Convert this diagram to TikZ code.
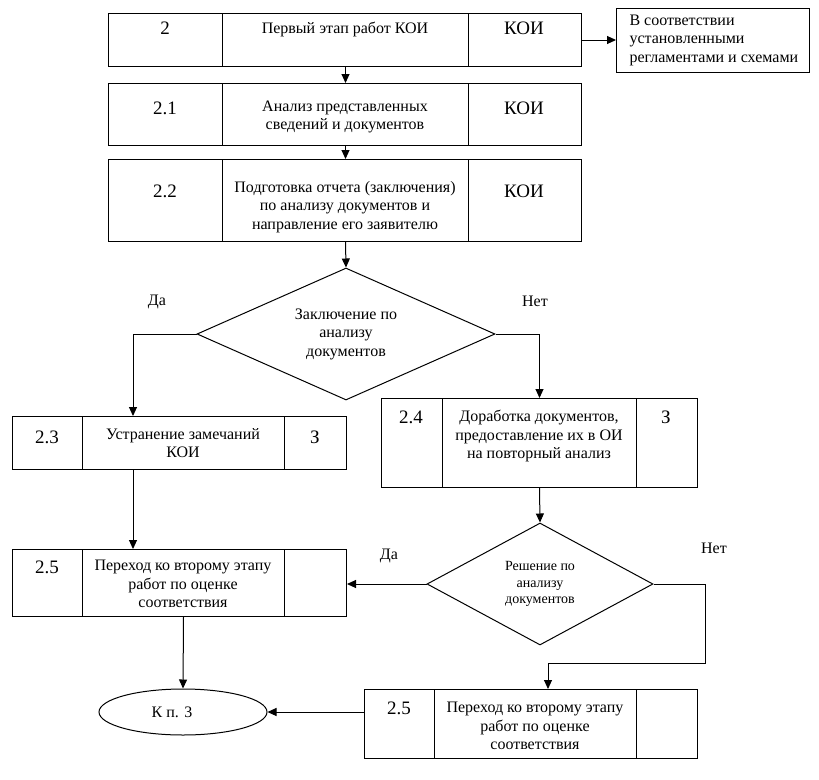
\documentclass[tikz,border=0pt]{standalone}
\usepackage{fontspec}
\setmainfont{Liberation Serif}
\usetikzlibrary{shapes.geometric,arrows.meta,calc}
\begin{document}
\begin{tikzpicture}[x=1pt,y=-1pt,line width=1pt,
  cell/.style 2 args={draw, inner sep=0pt, anchor=north west, minimum width=#1pt, minimum height=#2pt},
  txt/.style={font=\fontsize{16}{18.5}\selectfont, align=center, inner sep=0pt},
  small/.style={font=\fontsize{14}{16.5}\selectfont, align=center, inner sep=0pt},
  num/.style={font=\fontsize{19}{21}\selectfont, inner sep=0pt},
  arr/.style={-{Triangle[length=9pt,width=8pt]}},
  dia/.style 2 args={draw, diamond, inner sep=0pt, minimum width=#1pt, minimum height=#2pt}]
\useasboundingbox (0,0) rectangle (819,779);

% Box 2
\node[cell={114}{53}] (b2l) at (108,13) {};
\node[cell={246}{53}] (b2m) at (222,13) {};
\node[cell={113}{53}] (b2r) at (468,13) {};
\node[num] at (165,28) {2};
\node[txt] at (345,29) {Первый этап работ КОИ};
\node[num] at (524,28) {КОИ};

% Right note
\node[cell={193}{64}] (R) at (616,8) {};
\node[txt, align=left, anchor=west] at (629,40) {В соответствии\\установленными\\регламентами и схемами};

% Box 2.1
\node[cell={114}{62}] (b21l) at (108,83) {};
\node[cell={246}{62}] (b21m) at (222,83) {};
\node[cell={113}{62}] (b21r) at (468,83) {};
\node[num] at (165,108) {2.1};
\node[txt] at (345,117) {Анализ представленных\\сведений и документов};
\node[num] at (524,108) {КОИ};

% Box 2.2
\node[cell={114}{82}] (b22l) at (108,159) {};
\node[cell={246}{82}] (b22m) at (222,159) {};
\node[cell={113}{82}] (b22r) at (468,159) {};
\node[num] at (165,191) {2.2};
\node[txt] at (345,207) {Подготовка отчета (заключения)\\по анализу документов и\\направление его заявителю};
\node[num] at (524,191) {КОИ};

% Diamond 1
\node[dia={298}{132}] (d1) at (346,334) {};
\node[txt] at (d1.center) {Заключение по\\анализу\\документов};
\node[txt] at (157,302) {Да};
\node[txt] at (535,301) {Нет};

% Box 2.3
\node[cell={70}{53}] (b23l) at (12,416) {};
\node[cell={202}{53}] (b23m) at (82,416) {};
\node[cell={62}{53}] (b23r) at (284,416) {};
\node[num] at (47,437) {2.3};
\node[txt] at (183,443) {Устранение замечаний\\КОИ};
\node[num] at (315,437) {З};

% Box 2.4
\node[cell={61}{89}] (b24l) at (381,398) {};
\node[cell={194}{89}] (b24m) at (442,398) {};
\node[cell={61}{89}] (b24r) at (636,398) {};
\node[num] at (411,417) {2.4};
\node[txt] at (539,436) {Доработка документов,\\предоставление их в ОИ\\на повторный анализ};
\node[num] at (666,417) {З};

% Box 2.5 left
\node[cell={70}{67}] (b5Ll) at (12,549) {};
\node[cell={202}{67}] (b5Lm) at (82,549) {};
\node[cell={62}{67}] (b5Lr) at (284,549) {};
\node[num] at (47,567) {2.5};
\node[txt] at (183,584) {Переход ко второму этапу\\работ по оценке\\соответствия};

% Diamond 2
\node[dia={226}{122}] (d2) at (540,584) {};
\node[small] at (d2.center) {Решение по\\анализу\\документов};
\node[txt] at (389,556) {Да};
\node[txt] at (714,548) {Нет};

% Box 2.5 right
\node[cell={70}{69}] (b5Rl) at (364,689) {};
\node[cell={202}{69}] (b5Rm) at (434,689) {};
\node[cell={61}{69}] (b5Rr) at (636,689) {};
\node[num] at (399,708) {2.5};
\node[txt] at (535,726) {Переход ко второму этапу\\работ по оценке\\соответствия};

% Ellipse
\node[draw, ellipse, inner sep=0pt, minimum width=168pt, minimum height=46pt] (E) at (183,712) {};
\node[txt] at (172,712) {К п. 3};

% Coordinates
\coordinate (j1) at (133,416);
\coordinate (k2) at (548,689);

% Connectors
\draw[arr] (b2m.south) -- (b21m.north);
\draw[arr] (b21m.south) -- (b22m.north);
\draw[arr] (b22m.south) -- (d1.north);
\draw[arr] (b2r.east) -- (b2r.east -| R.west);
\draw[arr] (d1.west) -| (j1);
\draw[arr] (d1.east) -| (b24m.north);
\draw[arr] (b23m.south -| j1) -- (b5Lm.north -| j1);
\draw[arr] (b24m.south) -- (d2.north);
\draw[arr] (d2.west) -- (d2.west -| b5Lr.east);
\draw[arr] (d2.east) -- ++(52,0) |- ($(k2)+(0,-26)$) -- (k2);
\draw[arr] (b5Lm.south) -- (E.north);
\draw[arr] (E.east -| b5Rl.west) -- (E.east);
\end{tikzpicture}
\end{document}
